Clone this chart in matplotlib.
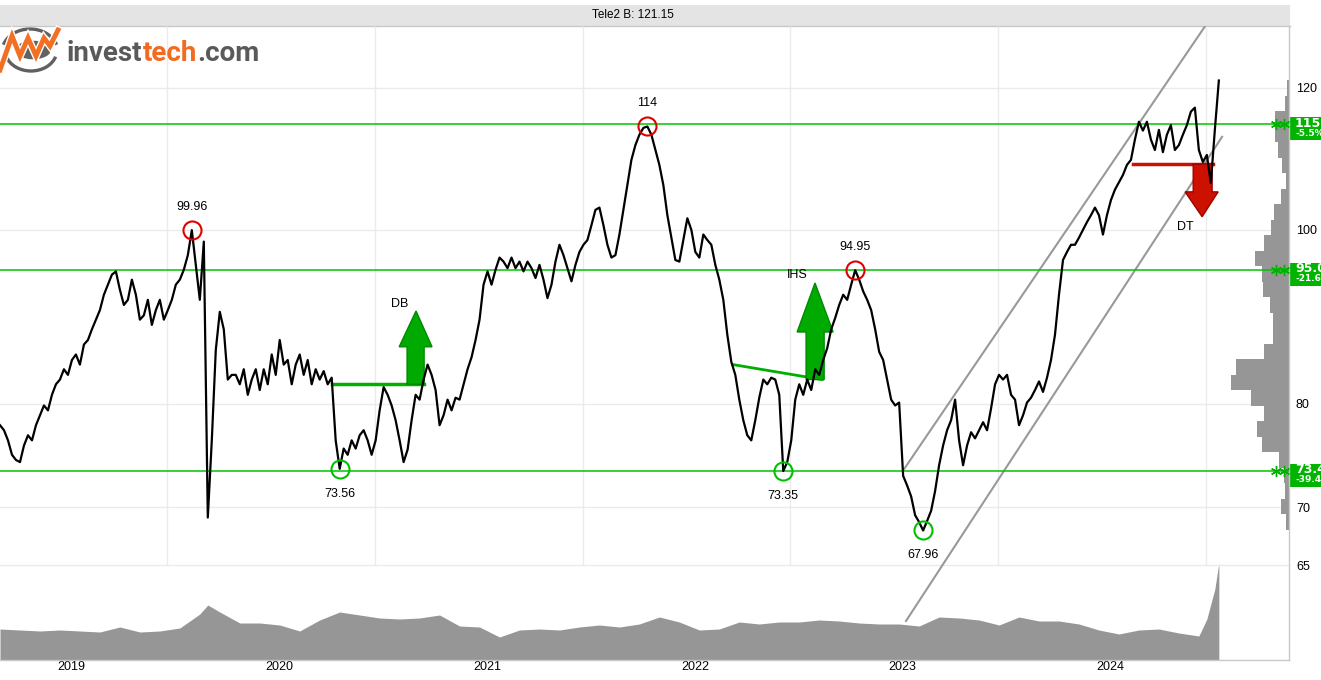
import numpy as np
import matplotlib
matplotlib.use("Agg")
import matplotlib.pyplot as plt
from matplotlib.patches import Polygon, Rectangle, Circle, Arc
from matplotlib.lines import Line2D
from matplotlib import font_manager
import matplotlib.transforms as mtransforms
from matplotlib.ticker import NullLocator

names = {f.name for f in font_manager.fontManager.ttflist}
SANS = "Liberation Sans" if "Liberation Sans" in names else "DejaVu Sans"
LOGO = "Roboto" if "Roboto" in names else "DejaVu Sans"

# ---------------- data ----------------
title = "Tele2 B: 121.15"
start_year = 2019.196          # first weekly close
weeks_per_year = 52

close = [
    77.8, 77.3, 76.3, 74.9, 74.4, 74.2, 75.8, 76.8, 76.3, 77.8,
    78.8, 79.8, 79.3, 80.9, 82.0, 82.5, 83.6, 83.0, 84.6, 85.2,
    84.1, 86.3, 86.8, 88.0, 89.1, 90.2, 92.0, 93.2, 94.4, 94.8,
    92.6, 90.8, 91.4, 93.8, 92.0, 89.1, 89.6, 91.4, 88.5, 90.2,
    91.4, 89.1, 90.2, 91.4, 93.2, 93.8, 95.0, 96.8, 99.96, 95.6,
    91.4, 98.5, 69.1, 76.3, 85.7, 90.0, 88.0, 82.5, 83.0, 83.0,
    82.0, 83.6, 80.9, 82.5, 83.6, 81.4, 83.6, 82.0, 85.2, 83.0,
    86.8, 84.1, 84.6, 82.0, 84.1, 85.2, 83.0, 84.6, 82.0, 83.6,
    82.5, 83.4, 82.0, 82.7, 76.3, 73.56, 75.5, 74.9, 76.3, 75.5,
    76.8, 77.3, 76.3, 74.9, 76.3, 79.3, 81.7, 80.9, 79.8, 78.3,
    76.3, 74.2, 75.4, 78.3, 80.9, 80.4, 82.5, 84.1, 83.0, 81.4,
    77.8, 78.8, 80.4, 79.3, 80.6, 80.4, 82.0, 83.6, 84.9, 86.8,
    89.1, 93.2, 94.8, 93.2, 95.0, 96.5, 96.0, 95.2, 96.5, 95.2,
    96.0, 94.8, 96.0, 95.2, 94.0, 95.6, 93.8, 91.6, 93.2, 96.0,
    98.1, 96.8, 95.2, 93.6, 95.6, 97.2, 98.1, 98.7, 100.6, 102.6,
    102.9, 100.6, 98.1, 96.5, 96.8, 99.4, 102.6, 105.9, 109.4, 111.5,
    113.0, 114.0, 114.2, 113.0, 110.8, 108.7, 105.9, 101.9, 99.0, 96.2,
    96.0, 98.7, 101.5, 100.0, 97.2, 96.5, 99.4, 98.7, 98.1, 95.6,
    93.8, 91.4, 87.4, 84.4, 83.0, 80.4, 78.3, 76.8, 76.3, 78.3,
    80.6, 82.5, 82.0, 82.7, 82.5, 80.9, 73.35, 74.2, 76.3, 80.4,
    82.0, 80.9, 82.5, 81.4, 83.6, 83.0, 84.6, 85.9, 88.0, 89.3,
    90.8, 92.0, 91.4, 93.2, 94.95, 93.8, 92.4, 91.4, 90.2, 88.0,
    85.5, 84.6, 82.5, 80.4, 79.8, 80.1, 72.9, 72.0, 71.0, 69.3,
    68.7, 67.96, 68.8, 69.7, 71.5, 73.9, 75.8, 77.3, 78.3, 80.4,
    76.3, 73.9, 75.8, 77.1, 76.5, 77.3, 78.1, 77.3, 79.5, 82.0,
    83.0, 82.5, 83.0, 80.9, 80.4, 77.8, 78.8, 80.1, 80.6, 81.4,
    82.3, 81.2, 82.7, 84.6, 87.4, 92.0, 96.2, 97.2, 98.1, 98.1,
    99.0, 100.0, 101.0, 101.9, 102.9, 101.9, 99.4, 101.9, 103.9, 105.3,
    106.3, 107.3, 108.7, 109.4, 112.3, 114.9, 113.6, 114.9, 112.3, 110.8,
    113.7, 110.5, 113.0, 114.4, 110.8, 111.5, 113.0, 114.4, 116.4, 117.0,
    110.8, 109.1, 110.1, 106.2, 113.7, 121.15,
]

vol_week = [0, 5, 10, 15, 20, 25, 30, 35, 40, 45, 50, 52, 55, 60, 65, 70, 75,
            80, 85, 90, 95, 100, 105, 110, 115, 120, 125, 130, 135, 140, 145,
            150, 155, 160, 165, 170, 175, 180, 185, 190, 195, 200, 205, 210,
            215, 220, 225, 230, 235, 240, 245, 250, 255, 260, 265, 270, 275,
            280, 285, 290, 295, 300, 302, 304, 305]
volume = [31, 30, 29, 30, 29, 28, 33, 28, 29, 32, 46, 55, 48, 37, 37, 35, 29,
          40, 48, 45, 42, 41, 42, 45, 34, 33, 23, 30, 31, 30, 33,
          35, 33, 36, 43, 38, 30, 31, 38, 36, 38, 38, 40, 39,
          37, 36, 36, 34, 43, 42, 40, 35, 43, 39, 39, 36, 30,
          26, 30, 31, 27, 24, 41, 71, 97]

ext_week = [48, 85, 162, 196, 214, 231]
ext_label = ["99.96", "73.56", "114", "73.35", "94.95", "67.96"]
ext_top = [True, False, True, False, True, False]

levels = [114.5, 95.0, 73.4]
level_label = ["115", "95.0", "73.4"]
level_pct = ["-5.5%", "-21.6%", "-39.4%"]

hist_lo, hist_hi = 68.0, 121.2
hist_vol = [3, 8, 4, 5, 10, 27, 32, 25, 38, 58, 53, 25, 16, 16, 19, 26, 27,
            34, 25, 18, 15, 8, 3, 7, 11, 14, 14, 4, 2]

price_ticks = [65, 70, 80, 100, 120]
years = [2019, 2020, 2021, 2022, 2023, 2024]

# chart patterns (date in years, price)
db_line = ([2020.794, 2021.237], [82.0, 82.0])
ihs_line = ([2022.724, 2023.152], [84.1, 82.5])
dt_line = ([2024.649, 2025.034], [108.8, 108.8])
channel_upper = ([2023.542, 2024.995], [73.4, 129.9])
channel_lower = ([2023.556, 2025.077], [60.5, 112.7])

# ---------------- figure ----------------
W, H = 1321, 680
fig = plt.figure(figsize=(W / 100, H / 100), dpi=100)
rect = [0, 20 / H, 1289 / W, 634 / H]
ax = fig.add_axes(rect)
ax_vol = fig.add_axes(rect, sharex=ax)
ax_hist = fig.add_axes(rect, sharey=ax)
ax_vol.set_zorder(1)
ax_hist.set_zorder(2)
ax.set_zorder(3)
ax.patch.set_visible(False)
ax_vol.axis("off")
ax_hist.axis("off")

t = start_year + np.arange(len(close)) / weeks_per_year
x0, x1 = 2019.196, 2025.399
ax.set_yscale("log")
ax.set_ylim(57.54, 129.94)
ax.set_xlim(x0, x1)

# volume panel
tv = start_year + np.array(vol_week) / weeks_per_year
ax_vol.fill_between(tv, 0, volume, color="#969696", lw=0)
ax_vol.set_ylim(0, 634)

# volume-by-price histogram
edges = np.geomspace(hist_lo, hist_hi, len(hist_vol) + 1)
ax_hist.barh(edges[:-1], hist_vol, height=np.diff(edges), align="edge",
             color="#969696", lw=0, zorder=2)
ax_hist.set_xlim(22.2 * max(hist_vol), 0)
for p in price_ticks:
    ax_hist.axhline(p, color="#ebebeb", lw=1, zorder=0)

# vertical year grid (price panel only)
ax.vlines([y + 1 for y in years], 65, 129.94, color="#ebebeb", lw=1, zorder=0)

# channel
ax.plot(*channel_upper, color="#999999", lw=1.5, zorder=2)
ax.plot(*channel_lower, color="#999999", lw=1.5, zorder=2)

# support / resistance levels
green = "#00c400"
btrans = mtransforms.blended_transform_factory(ax.transAxes, ax.transData)
for lv in levels:
    ax.axhline(lv, color=green, lw=1.1, zorder=3)
    ax.plot([0.9903, 0.9958], [lv, lv], transform=btrans, ls="none",
            marker=(6, 2, 0), ms=8, mec="#00b000", mew=1.0, zorder=7,
            clip_on=False)

# patterns
def arrow(xl, xr, yb, yh, hl, hr, tx, ty, fc, ec):
    verts = [(xl, yb), (xr, yb), (xr, yh), (hr, yh), (tx, ty), (hl, yh), (xl, yh)]
    ax.add_patch(Polygon(verts, closed=True, fc=fc, ec=ec, lw=1, zorder=4))

ax.plot(*db_line, color="#00b000", lw=2.5, zorder=4)
arrow(2021.155, 2021.237, 82.0, 86.05, 2021.117, 2021.275, 2021.198, 90.1,
      "#00aa00", "#008a00")
ax.text(2021.117, 90.9, "DB", ha="center", va="center", fontsize=9, family=SANS)

ax.plot(*ihs_line, color="#00b000", lw=2, zorder=4)
arrow(2023.075, 2023.162, 82.5, 87.7, 2023.032, 2023.205, 2023.118, 93.4,
      "#00aa00", "#008a00")
ax.text(2023.032, 94.4, "IHS", ha="center", va="center", fontsize=9, family=SANS)

ax.plot(*dt_line, color="#cc1100", lw=2.5, zorder=4)
arrow(2024.938, 2025.029, 108.8, 105.0, 2024.899, 2025.058, 2024.981, 101.7,
      "#cc1100", "#a00000")
ax.text(2024.899, 100.4, "DT", ha="center", va="center", fontsize=9, family=SANS)

# price line
ax.plot(t, close, color="black", lw=1.6, zorder=5)

# extremes
for w, lbl, top in zip(ext_week, ext_label, ext_top):
    col = "#e00000" if top else "#00c000"
    ax.plot(t[w], close[w], marker="o", ms=13, mfc="none", mec=col, mew=1.5,
            zorder=6)
    ax.annotate(lbl, (t[w], close[w]), xytext=(0, 17 if top else -18),
                textcoords="offset points", ha="center", va="center",
                fontsize=9, family=SANS, zorder=6)

# axes styling
ax.yaxis.tick_right()
ax.set_yticks(price_ticks)
ax.set_yticklabels([str(p) for p in price_ticks])
ax.yaxis.set_minor_locator(NullLocator())
ax.set_xticks([y + 0.54 for y in years])
ax.set_xticklabels([str(y) for y in years])
ax.tick_params(axis="y", length=0, pad=5, labelsize=9)
ax.tick_params(axis="x", length=0, pad=1, labelsize=9)
for lab in ax.get_xticklabels() + ax.get_yticklabels():
    lab.set_family(SANS)
ax.spines["top"].set_visible(False)
ax.spines["left"].set_visible(False)
for s in ("right", "bottom"):
    ax.spines[s].set_color("#c8c8c8")
    ax.spines[s].set_linewidth(1)

# level label boxes at the right edge (clipped by the image edge, as in the source)
for lv, lb, pc in zip(levels, level_label, level_pct):
    yd = ax.transData.transform((x0, lv))[1]
    fig.add_artist(Rectangle((1290 / W, (yd - 16) / H), 40 / W, 23 / H,
                             transform=fig.transFigure, fc="#00b400", ec="none"))
    fig.text(1295 / W, (yd + 1) / H, lb, color="white", fontsize=9,
             fontweight="bold", va="center", ha="left", family="DejaVu Sans")
    fig.text(1295 / W, (yd - 9) / H, pc, color="white", fontsize=6.5,
             fontweight="bold", va="center", ha="left", family="DejaVu Sans")

# title bar
fig.add_artist(Rectangle((0, 654 / H), 1290 / W, 21 / H, transform=fig.transFigure,
                         fc="#e4e4e4", ec="none", zorder=0))
fig.add_artist(Line2D([0, 1290 / W], [654 / H, 654 / H], color="#c8c8c8", lw=1))
fig.text(633 / W, 1 - 15.5 / H, title, ha="center", va="center", fontsize=8.5,
         family=SANS)

# logo
def F(x, y):
    return (x / W, 1 - y / H)

fig.add_artist(Circle(F(33, 50), 18 / W, transform=fig.transFigure,
                      fc="#626262", ec="none"))
fig.add_artist(Arc(F(30, 52), 56 / W, 46 / H, theta1=28, theta2=152,
                   transform=fig.transFigure, color="#606060", lw=2.4))
fig.add_artist(Arc(F(31, 50), 52 / W, 42 / H, theta1=208, theta2=332,
                   transform=fig.transFigure, color="#606060", lw=2.4))
zz = [(0, 70), (12, 36), (20, 56), (28, 38), (36, 56), (44, 38), (50, 46), (58, 30)]
fig.add_artist(Line2D([F(*p)[0] for p in zz], [F(*p)[1] for p in zz],
                      transform=fig.transFigure, color="white", lw=5.5,
                      solid_joinstyle="miter"))
fig.add_artist(Line2D([F(*p)[0] for p in zz], [F(*p)[1] for p in zz],
                      transform=fig.transFigure, color="#f36f21", lw=3.5,
                      solid_joinstyle="miter"))
t1 = fig.text(67 / W, 1 - 61 / H, "invest", fontsize=20, fontweight="bold",
              color="#5a5a5a", family=LOGO, va="baseline", ha="left")
t2 = ax.annotate("tech", xy=(1, 0), xycoords=t1, va="bottom", ha="left",
                 fontsize=20, fontweight="bold", color="#f26b21", family=LOGO,
                 annotation_clip=False)
t3 = ax.annotate(".com", xy=(1, 0), xycoords=t2, va="bottom", ha="left",
                 fontsize=20, fontweight="bold", color="#5a5a5a", family=LOGO,
                 annotation_clip=False)

fig.savefig("out.png", dpi=100)
